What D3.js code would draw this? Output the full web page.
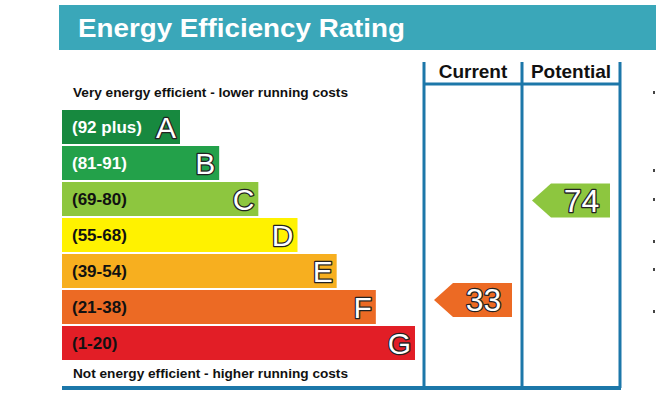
<!DOCTYPE html>
<html><head><meta charset="utf-8">
<script src="https://cdn.jsdelivr.net/npm/d3@7"></script>
<style>body{margin:0;background:#fff}svg{display:block}text{font-family:"Liberation Sans",Arial,sans-serif}</style>
</head><body><svg id="c" width="656" height="404"></svg>
<script>
const title = "Energy Efficiency Rating";
const topNote = "Very energy efficient - lower running costs";
const bottomNote = "Not energy efficient - higher running costs";
const ratings = ["A","B","C","D","E","F","G"];
const rangeLabels = ["(92 plus)","(81-91)","(69-80)","(55-68)","(39-54)","(21-38)","(1-20)"];
const rangeMin = [92,81,69,55,39,21,1];
const rangeMax = [100,91,80,68,54,38,20];
const bandColors = ["#17893f","#23a14a","#8dc63f","#fff200","#f7af1f","#ec6a24","#e21e26"];
const labelColors = ["#fff","#fff","#111","#111","#111","#111","#111"];
const columns = ["Current","Potential"];
const scores = [33,74];
const tickMarksY = [93,171,200,242,270,312];

const svg = d3.select("#c");
const lineColor = "#1c77a9";

// title banner
svg.append("rect").attr("x",59).attr("y",5).attr("width",597).attr("height",45).attr("fill","#3aa7b9");
svg.append("text").attr("x",78).attr("y",37).attr("fill","#fff").attr("font-size",26).attr("font-weight","bold")
  .attr("textLength",327).attr("lengthAdjust","spacingAndGlyphs").text(title);

const y = d3.scaleBand().domain(ratings).range([110,360]).paddingInner(0.0556).paddingOuter(0);
const xEnd = d3.scaleLinear().domain([0,6]).range([180,415]);
const x0 = 62;

svg.append("text").attr("x",73).attr("y",97).attr("font-size",12.5).attr("font-weight","bold").attr("fill","#111")
  .attr("textLength",275).attr("lengthAdjust","spacingAndGlyphs").text(topNote);
svg.append("text").attr("x",73).attr("y",378).attr("font-size",12.5).attr("font-weight","bold").attr("fill","#111")
  .attr("textLength",275).attr("lengthAdjust","spacingAndGlyphs").text(bottomNote);

const g = svg.append("g");
ratings.forEach((r,i)=>{
  const top = y(r), bw = y.bandwidth(), right = xEnd(i);
  g.append("rect").attr("x",x0).attr("y",top).attr("width",right-x0).attr("height",bw).attr("fill",bandColors[i]);
  g.append("text").attr("x",72).attr("y",top+bw/2+6).attr("font-size",17).attr("font-weight","bold").attr("fill",labelColors[i]).text(rangeLabels[i]);
  g.append("text").attr("x",right-4).attr("y",top+bw/2+11).attr("text-anchor","end").attr("font-size",30)
   .attr("fill","#fff").attr("stroke","#222").attr("stroke-width",2.6).attr("paint-order","stroke").attr("stroke-linejoin","round").text(r);
});

// columns
const colX = d3.scalePoint().domain(columns).range([424,522]);
const colW = 98;
const colTop = 62, colBottom = 388, headerY = 84;
[424,522,620].forEach(xx=>{
  svg.append("line").attr("x1",xx).attr("x2",xx).attr("y1",colTop).attr("y2",colBottom).attr("stroke",lineColor).attr("stroke-width",3);
});
svg.append("line").attr("x1",424).attr("x2",620).attr("y1",headerY).attr("y2",headerY).attr("stroke",lineColor).attr("stroke-width",3);
svg.append("line").attr("x1",62).attr("x2",621).attr("y1",388).attr("y2",388).attr("stroke",lineColor).attr("stroke-width",4);
columns.forEach(c=>{
  svg.append("text").attr("x",colX(c)+colW/2).attr("y",78).attr("text-anchor","middle").attr("font-size",19).attr("font-weight","bold").attr("fill","#111").text(c);
});

// arrows
scores.forEach((v,k)=>{
  const i = ratings.findIndex((r,j)=>v>=rangeMin[j] && v<=rangeMax[j]);
  const r = ratings[i];
  const frac = (rangeMax[i]-v)/(rangeMax[i]-rangeMin[i]);
  const cy = y(r) + frac*y.bandwidth();
  const h = 34, left = colX(columns[k])+10, right = colX(columns[k])+88, tip = 19;
  const pts = [[left,cy],[left+tip,cy-h/2],[right,cy-h/2],[right,cy+h/2],[left+tip,cy+h/2]];
  svg.append("path").attr("d","M"+pts.map(p=>p.join(",")).join("L")+"Z").attr("fill",bandColors[i]);
  svg.append("text").attr("x",(left+tip+right)/2+1).attr("y",cy+11).attr("text-anchor","middle").attr("font-size",32)
   .attr("fill","#fff").attr("stroke","#222").attr("stroke-width",2.6).attr("paint-order","stroke").attr("stroke-linejoin","round").text(v);
});

// small marks cut off at the right edge
svg.selectAll(".tm").data(tickMarksY).join("rect").attr("x",653).attr("y",d=>d-2).attr("width",2).attr("height",3).attr("fill","#444");
</script></body></html>
